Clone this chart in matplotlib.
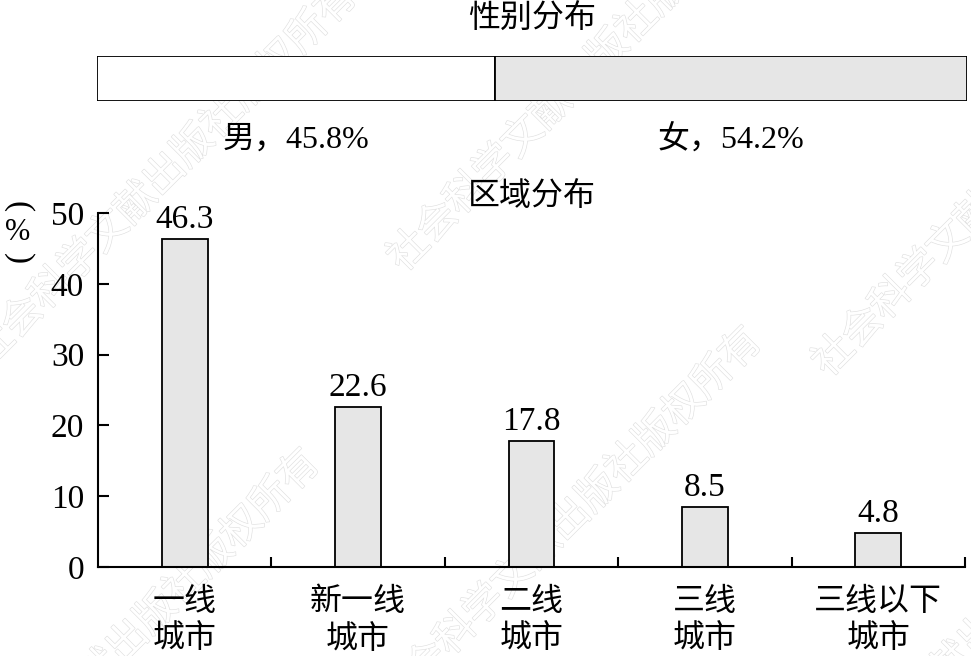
import matplotlib.pyplot as plt
import matplotlib.patheffects as pe
from matplotlib.transforms import blended_transform_factory

# gender split (%)
gender_labels = ["男", "女"]
gender_share = [45.8, 54.2]

# regional split (%)
regions = ["一线\n城市", "新一线\n城市", "二线\n城市", "三线\n城市", "三线以下\n城市"]
region_share = [46.3, 22.6, 17.8, 8.5, 4.8]
yticks = [0, 10, 20, 30, 40, 50]

watermark = "社会科学文献出版社版权所有"
# start of each diagonal watermark line, in pixels from top-left
wm_starts = [(-20, 360), (395, 265), (385, 705), (820, 370), (-57, 827), (795, 820)]

FONT = ["Liberation Serif", "Noto Sans CJK SC", "DejaVu Sans"]
plt.rcParams["font.family"] = FONT

W, H = 971, 656
fig = plt.figure(figsize=(W / 100, H / 100), dpi=100)


def fx(px):
    return px / W


def fy(py):
    return 1 - py / H


# watermark (below everything)
for x0, y0 in wm_starts:
    fig.text(fx(x0), fy(y0), watermark, rotation=45, rotation_mode="anchor",
             ha="left", va="center", fontsize=29, color="white", zorder=-5,
             family="Noto Sans CJK SC",
             path_effects=[pe.withStroke(linewidth=0.9, foreground="#e0e0e0")])

# ---- gender bar ----
ax0 = fig.add_axes([fx(97), fy(101), fx(967) - fx(97), fy(56) - fy(101)])
ax0.set_facecolor("none")
left = 0
colors = ["white", "#e6e6e6"]
for lab, val, c in zip(gender_labels, gender_share, colors):
    ax0.barh([0], [val], left=left, height=1.0, color=c, edgecolor="black",
             linewidth=1.3)
    trans = blended_transform_factory(ax0.transData, ax0.transAxes)
    ax0.text(left + val / 2, -0.87, f"{lab}，{val}%", transform=trans,
             ha="center", va="center", fontsize=23)
    left += val
ax0.set_xlim(0, 100)
ax0.set_ylim(-0.5, 0.5)
ax0.axis("off")

fig.text((fx(97) + fx(967)) / 2, fy(20), "性别分布", ha="center", va="center",
         fontsize=23)
fig.text((fx(97) + fx(967)) / 2, fy(197), "区域分布", ha="center", va="center",
         fontsize=23)

# ---- region bars ----
ax = fig.add_axes([fx(98), fy(567), fx(965) - fx(98), fy(213) - fy(567)])
ax.set_facecolor("none")
xs = list(range(len(regions)))
bars = ax.bar(xs, region_share, width=0.265, color="#e6e6e6", edgecolor="black",
              linewidth=1.3)
for x, v in zip(xs, region_share):
    ax.annotate(f"{v}", (x, v), xytext=(0, 3), textcoords="offset points",
                ha="center", va="bottom", fontsize=24)

ax.set_xlim(-0.5, len(regions) - 0.5)
ax.set_ylim(0, 50)
ax.set_yticks(yticks)
ax.tick_params(axis="y", direction="in", length=8, width=1.5, pad=10,
               labelsize=24)
ax.set_xticks(xs)
ax.set_xticklabels(regions, fontsize=23, linespacing=1.32)
ax.tick_params(axis="x", which="major", length=0, pad=15)
ax.set_xticks([i - 0.5 for i in range(1, len(regions) + 1)], minor=True)
ax.tick_params(axis="x", which="minor", direction="in", length=7, width=1.5)
for s in ["top", "right"]:
    ax.spines[s].set_visible(False)
for s in ["left", "bottom"]:
    ax.spines[s].set_linewidth(1.5)

# vertical unit label: (%) written top to bottom
fig.text(fx(18), fy(207), "(", rotation=-90, ha="center", va="center",
         fontsize=24, family="Liberation Serif")
fig.text(fx(18), fy(233), "%", ha="center", va="center", fontsize=22)
fig.text(fx(18), fy(259), ")", rotation=-90, ha="center", va="center",
         fontsize=24, family="Liberation Serif")

fig.savefig("out.png", dpi=100)
